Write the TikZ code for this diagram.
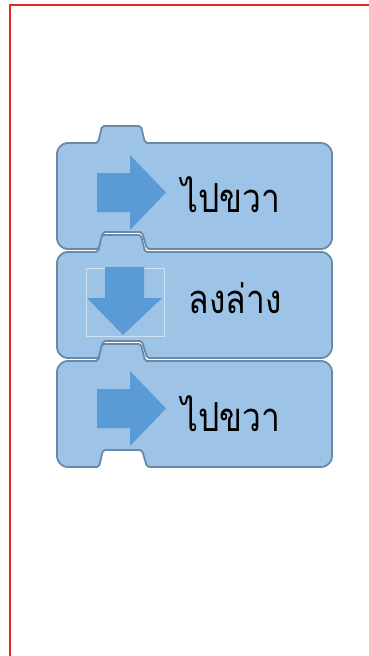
\documentclass[tikz,border=0pt]{standalone}
\usepackage{fontspec}
\usepackage{graphicx}
\newfontfamily\thaifont[Script=Thai]{Loma}
\definecolor{frameRed}{HTML}{E22A1F}
\definecolor{blockFill}{HTML}{9DC3E6}
\definecolor{blockEdge}{HTML}{6A88A8}
\definecolor{arrowFill}{HTML}{5B9BD5}
\definecolor{selLine}{HTML}{CFE2F3}
\newcommand{\thaitext}[1]{\scalebox{0.84}[1]{\thaifont\fontsize{40}{46}\selectfont #1}}
\tikzset{
  blockbody/.style={fill=blockFill, draw=blockEdge, line width=1.8pt, rounded corners=2pt, line join=round},
  arrowshape/.style={fill=arrowFill, draw=none},
  thailabel/.style={anchor=base, inner sep=0pt, text=black},
  framestyle/.style={draw=frameRed, line width=2.2pt}
}
\newcommand{\blockat}[1]{%
  \draw[blockbody] (57,{-#1-12}) arc[start angle=180,end angle=90,radius=12]
    -- (98,{-#1}) -- (102,{-#1+17}) -- (141,{-#1+17}) -- (145,{-#1})
    -- (320,{-#1}) arc[start angle=90,end angle=0,radius=12]
    -- (332,{-#1-94}) arc[start angle=0,end angle=-90,radius=12]
    -- (147,{-#1-106}) -- (142,{-#1-89}) -- (103,{-#1-89}) -- (99,{-#1-106})
    -- (69,{-#1-106}) arc[start angle=270,end angle=180,radius=12] -- cycle;}
\newcommand{\rightarrowat}[1]{%
  \fill[arrowshape] (97,{-#1+19.5}) -- (130,{-#1+19.5}) -- (130,{-#1+37.5}) -- (166,{-#1})
    -- (130,{-#1-37.5}) -- (130,{-#1-19.5}) -- (97,{-#1-19.5}) -- cycle;}
\begin{document}
\begin{tikzpicture}[x=1pt,y=1pt]
  \useasboundingbox (0,0) rectangle (369,-656);
  \clip (0,0) rectangle (369,-656);
  \fill[white] (0,0) rectangle (369,-656);
  \draw[framestyle] (10,-700) -- (10,-5) -- (400,-5);
  % blocks
  \blockat{143}
  \blockat{252}
  \blockat{361}
  % block 1
  \rightarrowat{192.5}
  \node[thailabel] (right1) at (231,-212) {\thaitext{ไปขวา}};
  % block 2
  \draw[selLine, line width=0.6pt] (86,-268) rectangle (164,-336);
  \fill[arrowshape] (105,-267) -- (144,-267) -- (144,-298) -- (162,-298) -- (123,-335)
    -- (87,-298) -- (105,-298) -- cycle;
  \node[thailabel] (down2) at (235,-313) {\thaitext{ลงล่าง}};
  % block 3
  \rightarrowat{408.5}
  \node[thailabel] (right3) at (231,-431) {\thaitext{ไปขวา}};
\end{tikzpicture}
\end{document}
